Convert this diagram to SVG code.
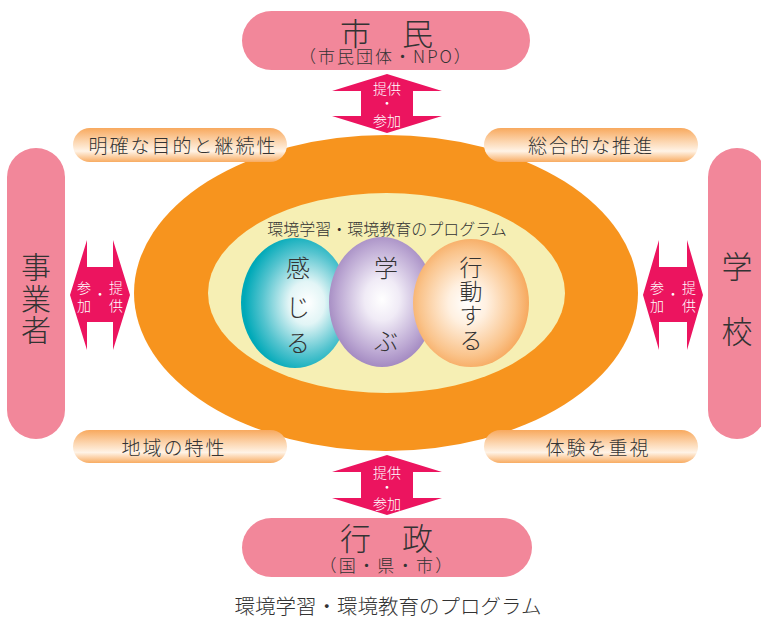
<svg xmlns="http://www.w3.org/2000/svg" width="761" height="619" viewBox="0 0 761 619">
<defs>
<style>
.t{font-family:"Noto Sans CJK JP","Noto Sans",sans-serif;fill:#333;text-anchor:middle;font-weight:300}
.w{font-family:"Noto Sans CJK JP","Noto Sans",sans-serif;fill:#fff;text-anchor:middle;font-size:14px;font-weight:300}
.pill{fill:#F2879A}
.arrow{fill:#EC145F}
.lbl{fill:url(#lg)}
</style>
<linearGradient id="lg" x1="0" y1="0" x2="0" y2="1">
<stop offset="0" stop-color="#F8A95E"/>
<stop offset="0.4" stop-color="#FCD6B0"/>
<stop offset="0.68" stop-color="#FFF3E6"/>
<stop offset="1" stop-color="#F8AC62"/>
</linearGradient>
<radialGradient id="gc" cx="0.58" cy="0.5" r="0.55" fx="0.62" fy="0.5">
<stop offset="0" stop-color="#FFFFFF"/>
<stop offset="0.3" stop-color="#E2F5F6"/>
<stop offset="0.72" stop-color="#55C4CF"/>
<stop offset="1" stop-color="#00A9B8"/>
</radialGradient>
<radialGradient id="gp" cx="0.5" cy="0.48" r="0.55">
<stop offset="0" stop-color="#FFFFFF"/>
<stop offset="0.3" stop-color="#F0EBF6"/>
<stop offset="0.75" stop-color="#BCA8D3"/>
<stop offset="1" stop-color="#9D82BD"/>
</radialGradient>
<radialGradient id="go" cx="0.47" cy="0.5" r="0.55">
<stop offset="0" stop-color="#FFFFFF"/>
<stop offset="0.3" stop-color="#FFF0E0"/>
<stop offset="0.75" stop-color="#FAC48C"/>
<stop offset="1" stop-color="#F6A456"/>
</radialGradient>
</defs>

<g id="program">
<ellipse cx="386" cy="293" rx="252" ry="158" fill="#F7941E"/>
<ellipse cx="386.5" cy="293" rx="178.5" ry="100" fill="#F6EFB4"/>
<text class="t" x="387" y="235" font-size="16">環境学習・環境教育のプログラム</text>
</g>

<g id="kanjiru">
<ellipse cx="295" cy="303" rx="54" ry="65" fill="url(#gc)"/>
<text class="t" font-size="24"><tspan x="298" y="277">感</tspan><tspan x="298" y="316">じ</tspan><tspan x="298" y="352">る</tspan></text>
</g>
<g id="manabu">
<ellipse cx="382" cy="302" rx="53" ry="65" fill="url(#gp)"/>
<text class="t" font-size="24"><tspan x="386" y="277">学</tspan><tspan x="386" y="350">ぶ</tspan></text>
</g>
<g id="koudou">
<ellipse cx="471" cy="303" rx="58" ry="64" fill="url(#go)"/>
<text class="t" font-size="23"><tspan x="471" y="276">行</tspan><tspan x="471" y="300">動</tspan><tspan x="471" y="324">す</tspan><tspan x="471" y="349">る</tspan></text>
</g>

<g id="shimin">
<rect class="pill" x="242" y="11" width="288" height="59" rx="29.5"/>
<text class="t" x="386.5" y="45" font-size="31">市　民</text>
<text class="t" x="386" y="63" font-size="17" letter-spacing="2">（市民団体・NPO）</text>
</g>
<g id="gyousei">
<rect class="pill" x="242" y="518" width="290" height="59" rx="29.5"/>
<text class="t" x="386.5" y="550" font-size="31">行　政</text>
<text class="t" x="387" y="572" font-size="17" letter-spacing="2.3">（国・県・市）</text>
</g>
<g id="jigyousha">
<rect class="pill" x="7" y="148" width="58" height="291" rx="29"/>
<text class="t" font-size="30"><tspan x="36" y="278">事</tspan><tspan x="36" y="310">業</tspan><tspan x="36" y="341">者</tspan></text>
</g>
<g id="gakkou">
<rect class="pill" x="708" y="148" width="58" height="291" rx="29"/>
<text class="t" font-size="31"><tspan x="737" y="278">学</tspan><tspan x="737" y="343">校</tspan></text>
</g>

<g id="label-meikaku">
<rect class="lbl" x="73" y="128" width="214" height="34" rx="17"/>
<text class="t" x="183" y="153" font-size="19" letter-spacing="2">明確な目的と継続性</text>
</g>
<g id="label-sougou">
<rect class="lbl" x="484" y="128" width="214" height="34" rx="17"/>
<text class="t" x="591" y="153" font-size="19" letter-spacing="2">総合的な推進</text>
</g>
<g id="label-chiiki">
<rect class="lbl" x="73" y="430" width="214" height="33" rx="16.5"/>
<text class="t" x="174" y="455" font-size="19" letter-spacing="2">地域の特性</text>
</g>
<g id="label-taiken">
<rect class="lbl" x="484" y="430" width="214" height="33" rx="16.5"/>
<text class="t" x="598" y="455" font-size="19" letter-spacing="2">体験を重視</text>
</g>

<g id="connectors">
<g id="arrow-top">
<polygon class="arrow" points="387,74 442,91 413,91 413,116 442,116 387,133 332,116 361,116 361,91 332,91"/>
<text class="w"><tspan x="387" y="94">提供</tspan><tspan x="387" y="108">・</tspan><tspan x="387" y="126">参加</tspan></text>
</g>
<g id="arrow-bottom">
<polygon class="arrow" points="387,455 442,472 413,472 413,498 442,498 387,515 332,498 361,498 361,472 332,472"/>
<text class="w"><tspan x="387" y="478">提供</tspan><tspan x="387" y="492">・</tspan><tspan x="387" y="509">参加</tspan></text>
</g>
<g id="arrow-left">
<polygon class="arrow" points="70,295 87,240 87,267 113,267 113,240 130,295 113,350 113,322 87,322 87,350"/>
<text class="w"><tspan x="116" y="293">提</tspan><tspan x="116" y="311">供</tspan><tspan x="100" y="299">・</tspan><tspan x="84" y="293">参</tspan><tspan x="84" y="311">加</tspan></text>
</g>
<g id="arrow-right">
<polygon class="arrow" points="643,295 659,240 659,267 687,267 687,240 703,295 687,350 687,322 659,322 659,350"/>
<text class="w"><tspan x="689" y="293">提</tspan><tspan x="689" y="311">供</tspan><tspan x="673" y="299">・</tspan><tspan x="657" y="293">参</tspan><tspan x="657" y="311">加</tspan></text>
</g>
</g>

<text class="t" x="388" y="614" font-size="20.5">環境学習・環境教育のプログラム</text>
</svg>
